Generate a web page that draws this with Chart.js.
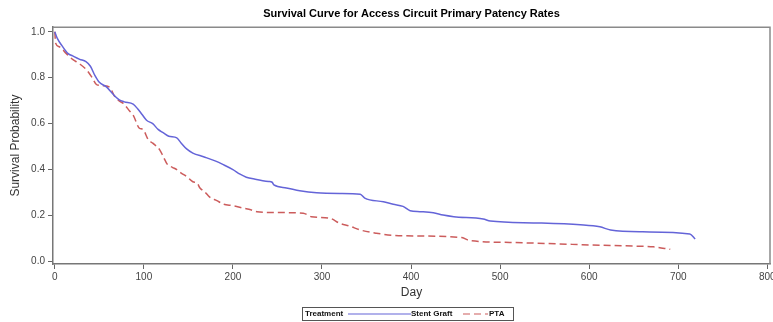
<!DOCTYPE html>
<html>
<head>
<meta charset="utf-8">
<script src="https://cdn.jsdelivr.net/npm/chart.js@4.4.1/dist/chart.umd.min.js"></script>
<style>
  html, body { margin: 0; padding: 0; background: #ffffff; }
  #wrap { width: 773px; height: 322px; }
</style>
</head>
<body>
<div id="wrap"><canvas id="c" width="773" height="322"></canvas></div>
<script>
// Kaplan-Meier style survival estimates, by treatment arm
const stentDays = [0, 3, 8, 15, 20, 28, 35, 40, 45, 50, 58, 65, 72, 78, 88, 93, 98, 103, 110, 116, 122, 128, 137, 142, 148, 155, 167, 180, 190, 200, 208, 215, 225, 240, 244, 246, 260, 275, 294, 320, 343, 348, 369, 380, 391, 399, 410, 425, 436, 448, 481, 489, 540, 590, 612, 624, 660, 713, 719];
const stentSurvival = [1.0, 0.97, 0.94, 0.905, 0.895, 0.88, 0.87, 0.85, 0.81, 0.78, 0.76, 0.73, 0.705, 0.695, 0.685, 0.665, 0.64, 0.615, 0.6, 0.575, 0.56, 0.545, 0.538, 0.515, 0.49, 0.472, 0.456, 0.438, 0.42, 0.4, 0.38, 0.367, 0.358, 0.348, 0.345, 0.333, 0.32, 0.308, 0.299, 0.296, 0.293, 0.276, 0.26, 0.249, 0.24, 0.221, 0.217, 0.212, 0.202, 0.195, 0.185, 0.176, 0.168, 0.16, 0.151, 0.137, 0.129, 0.12, 0.098];

const ptaDays = [0, 1, 5, 13, 20, 28, 36, 42, 47, 55, 62, 67, 72, 77, 84, 88, 95, 99, 105, 110, 118, 122, 126, 132, 137, 142, 148, 155, 160, 163, 168, 174, 182, 189, 200, 212, 220, 227, 250, 279, 288, 309, 320, 331, 343, 361, 380, 410, 457, 466, 511, 601, 650, 672, 691];
const ptaSurvival = [1.0, 0.95, 0.935, 0.905, 0.88, 0.86, 0.833, 0.8, 0.77, 0.765, 0.757, 0.72, 0.7, 0.688, 0.655, 0.637, 0.58, 0.575, 0.53, 0.515, 0.485, 0.455, 0.425, 0.41, 0.4, 0.385, 0.37, 0.347, 0.34, 0.32, 0.305, 0.28, 0.265, 0.25, 0.243, 0.232, 0.225, 0.217, 0.213, 0.21, 0.195, 0.188, 0.166, 0.154, 0.137, 0.123, 0.114, 0.111, 0.104, 0.091, 0.083, 0.072, 0.067, 0.064, 0.053];

const seriesNames = ['Stent Graft', 'PTA'];
const legendTitle = 'Treatment';
const dayTicks = [0, 100, 200, 300, 400, 500, 600, 700, 800];
const probTicks = [0.0, 0.2, 0.4, 0.6, 0.8, 1.0];

const toPoints = (xs, ys) => xs.map((x, i) => ({ x: x, y: ys[i] }));

// Closed frame around the plot area
const framePlugin = {
  id: 'frame',
  afterDraw(chart) {
    const { ctx, chartArea: a } = chart;
    ctx.save();
    ctx.strokeStyle = '#8a8a8a';
    ctx.lineWidth = 1.5;
    ctx.beginPath();
    ctx.moveTo(a.left, a.top);
    ctx.lineTo(a.right, a.top);
    ctx.lineTo(a.right, a.bottom);
    ctx.stroke();
    ctx.restore();
  }
};

// Boxed legend row under the axis title
const boxLegend = {
  id: 'boxLegend',
  afterDraw(chart) {
    const { ctx } = chart;
    const ds = chart.data.datasets;
    const top = 307, h = 13, left = 302, right = 513;
    const cy = top + h / 2;
    ctx.save();
    ctx.strokeStyle = '#555';
    ctx.lineWidth = 1;
    ctx.strokeRect(left + 0.5, top + 0.5, right - left, h);
    ctx.font = 'bold 8px Arial, "Liberation Sans", sans-serif';
    ctx.fillStyle = '#111';
    ctx.textBaseline = 'middle';
    ctx.textAlign = 'left';
    ctx.fillText(legendTitle, left + 3, cy + 0.5);

    // first series: solid sample ending at its label
    ctx.strokeStyle = ds[0].borderColor;
    ctx.lineWidth = 1.2;
    ctx.setLineDash([]);
    ctx.beginPath();
    ctx.moveTo(348, cy + 0.5);
    ctx.lineTo(411, cy + 0.5);
    ctx.stroke();
    ctx.fillText(ds[0].label, 411, cy + 0.5);

    // second series: dashed sample
    ctx.strokeStyle = ds[1].borderColor;
    ctx.setLineDash(ds[1].borderDash);
    ctx.beginPath();
    ctx.moveTo(463, cy + 0.5);
    ctx.lineTo(488, cy + 0.5);
    ctx.stroke();
    ctx.setLineDash([]);
    ctx.fillText(ds[1].label, 489, cy + 0.5);
    ctx.restore();
  }
};

const tickFont = { family: 'Arial, "Liberation Sans", sans-serif', size: 10 };
const titleFont = { family: 'Arial, "Liberation Sans", sans-serif', size: 12 };

new Chart(document.getElementById('c'), {
  type: 'line',
  data: {
    datasets: [
      {
        label: seriesNames[0],
        data: toPoints(stentDays, stentSurvival),
        borderColor: '#6464d8',
        borderWidth: 1.5,
        pointRadius: 0,
        cubicInterpolationMode: 'monotone',
        fill: false
      },
      {
        label: seriesNames[1],
        data: toPoints(ptaDays, ptaSurvival),
        borderColor: '#cc5c5c',
        borderWidth: 1.5,
        borderDash: [7, 4],
        pointRadius: 0,
        cubicInterpolationMode: 'monotone',
        fill: false
      }
    ]
  },
  options: {
    responsive: false,
    animation: false,
    devicePixelRatio: 1,
    layout: { padding: { top: 0, right: 3, bottom: 22, left: 0 } },
    plugins: {
      legend: { display: false },
      tooltip: { enabled: false },
      title: {
        display: true,
        text: 'Survival Curve for Access Circuit Primary Patency Rates',
        fullSize: false,
        color: '#000',
        font: { family: 'Arial, "Liberation Sans", sans-serif', size: 11, weight: 'bold' },
        padding: { top: 7, bottom: 7 }
      }
    },
    scales: {
      x: {
        type: 'linear',
        min: -2,
        max: 803,
        afterBuildTicks(scale) { scale.ticks = dayTicks.map(v => ({ value: v })); },
        afterFit(scale) { scale.height = 36; scale.paddingLeft = 0; scale.paddingRight = 0; },
        ticks: { color: '#444', font: tickFont, padding: 2, maxRotation: 0, autoSkip: false },
        grid: { display: true, drawOnChartArea: false, drawTicks: true, tickLength: 5, color: '#666', tickWidth: 1 },
        border: { display: true, color: '#777', width: 1.5 },
        title: { display: true, text: 'Day', color: '#333', font: titleFont, padding: { top: 0, bottom: 0 } }
      },
      y: {
        type: 'linear',
        min: -0.011,
        max: 1.02,
        afterBuildTicks(scale) { scale.ticks = probTicks.map(v => ({ value: v })); },
        afterFit(scale) { scale.width = 53; },
        ticks: { color: '#444', font: tickFont, padding: 3, callback: v => Number(v).toFixed(1) },
        grid: { display: true, drawOnChartArea: false, drawTicks: true, tickLength: 5, color: '#666', tickWidth: 1 },
        border: { display: true, color: '#777', width: 1.5 },
        title: { display: true, text: 'Survival Probability', color: '#333', font: titleFont, padding: { top: 8, bottom: 0 } }
      }
    }
  },
  plugins: [framePlugin, boxLegend]
});
</script>
</body>
</html>
